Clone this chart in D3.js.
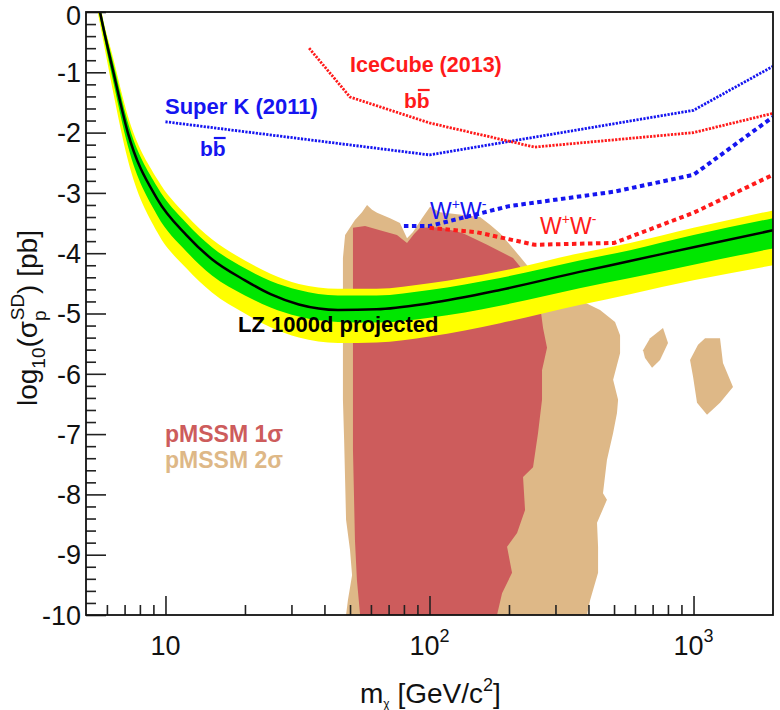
<!DOCTYPE html>
<html><head><meta charset="utf-8">
<script src="https://cdn.jsdelivr.net/npm/d3@7"></script>
<style>body{margin:0;background:#fff} text{font-family:"Liberation Sans",Arial,Helvetica,sans-serif}</style>
</head><body><svg id="c" width="780" height="710"></svg>
<script>
// ---------------- data ----------------
const lzMass    = [5.45, 5.65, 6.35, 7.2, 9.3, 12, 15, 20, 25, 32, 45, 63, 100, 185, 370, 575, 1000, 2000];
const lzCenter  = [0.35, 0, -1.0, -2.0, -3.1, -3.7, -4.1, -4.45, -4.68, -4.85, -4.94, -4.93, -4.83, -4.61, -4.31, -4.13, -3.9, -3.62];
const lzYellowHi= [0.6, 0.15, -0.78, -1.72, -2.77, -3.37, -3.77, -4.12, -4.34, -4.51, -4.59, -4.59, -4.5, -4.3, -4.0, -3.83, -3.58, -3.29];
const lzGreenHi = [0.5, 0.1, -0.86, -1.83, -2.9, -3.5, -3.9, -4.25, -4.46, -4.61, -4.7, -4.7, -4.61, -4.41, -4.12, -3.95, -3.7, -3.42];
const lzGreenLo = [0.25, -0.1, -1.17, -2.22, -3.37, -3.97, -4.37, -4.7, -4.9, -5.05, -5.14, -5.15, -5.07, -4.87, -4.58, -4.41, -4.19, -3.92];
const lzYellowLo= [0.15, -0.2, -1.35, -2.45, -3.65, -4.25, -4.65, -5.0, -5.23, -5.4, -5.49, -5.48, -5.38, -5.16, -4.86, -4.68, -4.45, -4.2];

const superKbbMass = [10, 100, 1000, 2000];
const superKbbVal  = [-1.82, -2.37, -1.63, -0.9];
const superKwwMass = [80, 100, 200, 500, 1000, 2000];
const superKwwVal  = [-3.55, -3.55, -3.22, -2.98, -2.70, -1.74];
const iceCubebbMass = [35, 50, 100, 250, 1000, 2000];
const iceCubebbVal  = [-0.6, -1.41, -1.84, -2.24, -2.0, -1.68];
const iceCubewwMass = [100, 150, 250, 500, 1000, 2000];
const iceCubewwVal  = [-3.58, -3.65, -3.86, -3.83, -3.33, -2.7];

const pmssm2sigma = [[48.3,-10],[49.1,-9.75],[50.9,-9.34],[50.0,-8.92],[48.3,-8.42],[47.9,-7.76],[47.5,-7.10],[47.0,-6.43],[47.0,-5.61],[47.0,-4.78],[47.0,-4.08],[47.9,-3.70],[52.2,-3.45],[55.5,-3.32],[58.0,-3.20],[60.6,-3.28],[63.3,-3.33],[70.9,-3.42],[77.3,-3.50],[82.2,-3.75],[86.6,-3.65],[93.7,-3.42],[100.5,-3.23],[109.6,-3.32],[125,-3.35],[155.4,-3.40],[169.6,-3.53],[185,-3.67],[201.8,-3.86],[220.3,-4.06],[251,-4.36],[299,-4.61],[372,-4.78],[442.6,-4.94],[504.4,-5.14],[527,-5.36],[527,-5.66],[496,-6.10],[518,-6.43],[513,-6.65],[496,-6.98],[470,-7.43],[454,-7.98],[470,-8.09],[431,-8.47],[435,-8.87],[435,-9.30],[406,-9.75],[395,-10]];
const pmssm2sigmaIsland1 = [[766.5,-5.24],[800.6,-5.49],[746.7,-5.77],[696.6,-5.90],[655.2,-5.74],[643.9,-5.61],[684.5,-5.41]];
const pmssm2sigmaIsland2 = [[1106,-5.41],[1260,-5.41],[1293,-5.82],[1411,-6.22],[1260,-6.48],[1125,-6.68],[1031,-6.48],[996,-6.05],[970,-5.77],[1040,-5.52]];
const pmssm1sigma = [[54.6,-10],[53.1,-9.42],[52.2,-8.76],[51.8,-8.09],[51.3,-7.26],[51.3,-6.43],[51.3,-5.61],[51.3,-4.78],[51.3,-3.95],[51.3,-3.58],[57.0,-3.55],[64.9,-3.62],[75.3,-3.70],[82.2,-3.83],[87.4,-3.68],[92.1,-3.58],[109.6,-3.57],[134,-3.67],[165.2,-3.86],[207.2,-4.08],[246.7,-4.48],[262.2,-4.86],[269.2,-5.24],[278.7,-5.57],[266.8,-5.94],[266.8,-6.43],[257.7,-6.98],[246.7,-7.55],[226.1,-7.71],[230.1,-8.26],[214.6,-8.64],[196.7,-8.87],[205.4,-9.30],[188.3,-9.64],[180.2,-10]];

const xMajorTicks = [10, 100, 1000];
const xMinorTicks = [6,7,8,9,20,30,40,50,60,70,80,90,200,300,400,500,600,700,800,900];
const xTickLabels = [["10",""],["10","2"],["10","3"]];
const yMajorTicks = [-10,-9,-8,-7,-6,-5,-4,-3,-2,-1,0];
const yTickLabels = ["-10","-9","-8","-7","-6","-5","-4","-3","-2","-1","0"];

// ---------------- drawing ----------------
const svg = d3.select("#c");
const L=86, R=773, T=12, B=615;
const x = d3.scaleLog().domain([5,2000]).range([L,R]);
const y = d3.scaleLinear().domain([-10,0]).range([B,T]);

svg.append("defs").append("clipPath").attr("id","clip")
  .append("rect").attr("x",L).attr("y",T).attr("width",R-L).attr("height",B-T);
const g = svg.append("g").attr("clip-path","url(#clip)");

const poly = d3.line().x(d=>x(d[0])).y(d=>y(d[1])).curve(d3.curveLinearClosed);
const TAN="#deb887", RED="#cd5c5c";
[pmssm2sigma, pmssm2sigmaIsland1, pmssm2sigmaIsland2].forEach(p=>
  g.append("path").attr("d",poly(p)).attr("fill",TAN));
g.append("path").attr("d",poly(pmssm1sigma)).attr("fill",RED);

const idx = d3.range(lzMass.length);
const area = (lo,hi)=>d3.area().x(i=>x(lzMass[i])).y0(i=>y(lo[i])).y1(i=>y(hi[i])).curve(d3.curveMonotoneX)(idx);
g.append("path").attr("d",area(lzYellowLo,lzYellowHi)).attr("fill","#ffff00");
g.append("path").attr("d",area(lzGreenLo,lzGreenHi)).attr("fill","#00e600");
g.append("path").attr("d",d3.line().x(i=>x(lzMass[i])).y(i=>y(lzCenter[i])).curve(d3.curveMonotoneX)(idx))
  .attr("fill","none").attr("stroke","#000").attr("stroke-width",2.5);

function limitLine(ms, vs, color, w, dash){
  g.append("path").attr("d", d3.line().x(i=>x(ms[i])).y(i=>y(vs[i]))(d3.range(ms.length)))
   .attr("fill","none").attr("stroke",color).attr("stroke-width",w).attr("stroke-dasharray",dash);
}
const BLUE="#1515f0", LRED="#ff1a1a";
limitLine(superKbbMass, superKbbVal, BLUE, 2.8, "2.2,1.3");
limitLine(iceCubebbMass, iceCubebbVal, LRED, 2.8, "2.2,1.3");
limitLine(superKwwMass, superKwwVal, BLUE, 4, "4.5,3.5");
limitLine(iceCubewwMass, iceCubewwVal, LRED, 4, "4.5,3.5");

// axes ticks
const axStyle = sel => { sel.select(".domain").remove(); sel.selectAll("line").attr("stroke","#222").attr("stroke-width",1.6); sel.selectAll("text").remove(); };
svg.append("g").attr("transform",`translate(0,${B})`).call(d3.axisBottom(x).tickValues(xMajorTicks).tickSize(-19).tickFormat("")).call(axStyle);
svg.append("g").attr("transform",`translate(0,${B})`).call(d3.axisBottom(x).tickValues(xMinorTicks).tickSize(-10).tickFormat("")).call(axStyle);
svg.append("g").attr("transform",`translate(${L},0)`).call(d3.axisLeft(y).tickValues(yMajorTicks).tickSize(-20).tickFormat("")).call(axStyle);
svg.append("g").attr("transform",`translate(${L},0)`).call(d3.axisLeft(y).tickValues(d3.range(-10,0,0.2).filter(v=>Math.abs(v-Math.round(v))>0.05)).tickSize(-10).tickFormat("")).call(axStyle);
svg.append("rect").attr("x",L).attr("y",T).attr("width",R-L).attr("height",B-T)
  .attr("fill","none").attr("stroke","#111").attr("stroke-width",1.8);

// tick labels
yMajorTicks.forEach((v,i)=>svg.append("text").attr("x",81).attr("y",Math.max(y(v),15)).attr("dy","0.36em")
  .attr("text-anchor","end").attr("font-size",27).attr("fill","#111").text(yTickLabels[i]));
xMajorTicks.forEach((v,i)=>{
  const t = svg.append("text").attr("x",x(v)).attr("y",655).attr("text-anchor","middle").attr("font-size",27).attr("fill","#111");
  t.append("tspan").text(xTickLabels[i][0]);
  if(xTickLabels[i][1]) t.append("tspan").attr("dy",-13).attr("font-size",18).text(xTickLabels[i][1]);
});

// axis titles
const xt = svg.append("text").attr("x",360).attr("y",703).attr("font-size",28).attr("fill","#111");
xt.append("tspan").text("m");
xt.append("tspan").attr("dy",5).attr("font-size",12).text("χ");
xt.append("tspan").attr("dy",-5).text(" [GeV/c");
xt.append("tspan").attr("dy",-12).attr("font-size",18).text("2");
xt.append("tspan").attr("dy",12).text("]");

const yt = svg.append("text").attr("transform","translate(37,406) rotate(-90)").attr("font-size",28).attr("fill","#111");
yt.append("tspan").text("log");
yt.append("tspan").attr("dy",8).attr("font-size",19).text("10");
yt.append("tspan").attr("dy",-8).text("(σ");
yt.append("tspan").attr("dy",9).attr("font-size",19).text("p");
yt.append("tspan").attr("dx",-10).attr("dy",-22).attr("font-size",19).text("SD");
yt.append("tspan").attr("dy",13).text(") [pb]");

// annotations
function bbbar(xp, yp, color){
  const t = svg.append("text").attr("x",xp).attr("y",yp).attr("font-size",21).attr("font-weight","bold").attr("fill",color).text("bb");
  const w = t.node().getComputedTextLength();
  svg.append("line").attr("x1",xp+w/2+1).attr("x2",xp+w).attr("y1",yp-18).attr("y2",yp-18).attr("stroke",color).attr("stroke-width",2.2);
}
function ww(xp, yp, color){
  const t = svg.append("text").attr("x",xp).attr("y",yp).attr("font-size",23).attr("fill",color);
  t.append("tspan").text("W");
  t.append("tspan").attr("dy",-10).attr("font-size",14).text("+");
  t.append("tspan").attr("dy",10).text("W");
  t.append("tspan").attr("dy",-10).attr("font-size",14).text("-");
}
svg.append("text").attr("x",165).attr("y",114).attr("font-size",22).attr("font-weight","bold").attr("fill",BLUE).text("Super K (2011)");
bbbar(200,156,BLUE);
svg.append("text").attr("x",350).attr("y",72).attr("font-size",21.5).attr("font-weight","bold").attr("fill",LRED).text("IceCube (2013)");
bbbar(404,108,LRED);
ww(430,219,BLUE);
ww(540,234,LRED);
svg.append("text").attr("x",238).attr("y",332).attr("font-size",22).attr("font-weight","bold").attr("fill","#000").text("LZ 1000d projected");
svg.append("text").attr("x",165).attr("y",442).attr("font-size",23).attr("font-weight","bold").attr("fill",RED).text("pMSSM 1σ");
svg.append("text").attr("x",165).attr("y",468).attr("font-size",23).attr("font-weight","bold").attr("fill",TAN).text("pMSSM 2σ");
</script></body></html>
